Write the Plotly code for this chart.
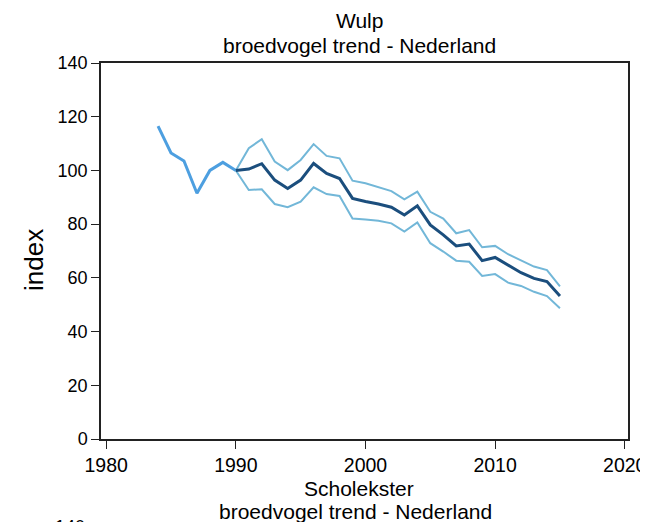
import plotly.graph_objects as go

# early part of the series (before 1990, no confidence band)
early_years = [1984, 1985, 1986, 1987, 1988, 1989, 1990]
early_index = [116.5, 106.5, 103.5, 91.5, 100.0, 103.0, 100.0]

years = list(range(1990, 2016))
trend = [100.0, 100.5, 102.5, 96.4, 93.3, 96.4, 102.6, 98.9, 97.0, 89.6,
         88.4, 87.5, 86.3, 83.4, 86.8, 79.7, 76.0, 71.9, 72.6, 66.4,
         67.6, 64.6, 61.9, 59.8, 58.6, 53.2]
upper = [100.0, 108.3, 111.6, 103.3, 100.1, 103.9, 109.8, 105.4, 104.5, 96.2,
         95.2, 93.7, 92.3, 89.2, 92.1, 84.6, 82.1, 76.6, 77.8, 71.4,
         71.9, 68.8, 66.4, 64.2, 62.9, 56.8]
lower = [100.0, 92.7, 93.0, 87.5, 86.3, 88.4, 93.7, 91.2, 90.5, 82.1,
         81.7, 81.3, 80.3, 77.2, 80.6, 72.9, 69.8, 66.4, 66.0, 60.7,
         61.4, 58.2, 57.0, 54.8, 53.2, 48.7]

font = "Liberation Sans, Arial, sans-serif"

# the page body has an 8px margin, so the figure starts 8px in
W, H, OFF = 648, 514, 8
L, R, T, B = 101 - OFF, 628 - OFF, 63 - OFF, 439 - OFF

fig = go.Figure()
fig.add_trace(go.Scatter(x=years, y=upper, mode="lines",
                         line=dict(color="#72b7d8", width=2)))
fig.add_trace(go.Scatter(x=years, y=lower, mode="lines",
                         line=dict(color="#72b7d8", width=2)))
fig.add_trace(go.Scatter(x=early_years, y=early_index, mode="lines",
                         line=dict(color="#4d9fe0", width=3)))
fig.add_trace(go.Scatter(x=years, y=trend, mode="lines",
                         line=dict(color="#1b4e7d", width=3)))


def paper(xp, yp):
    # page pixel -> paper coordinates
    return (xp - OFF - L) / (R - L), (B - (yp - OFF)) / (B - T)


notes = [
    ("Wulp", 359, 20, 21, 0),
    ("broedvogel trend - Nederland", 359, 45, 21, 0),
    ("Scholekster", 359, 488, 21, 0),
    ("broedvogel trend - Nederland", 355, 511, 21, 0),
    ("140", 70, 527, 18, 0),
    ("index", 34, 260, 26, -90),
]
ann = []
for text, xp, yp, size, angle in notes:
    x, y = paper(xp, yp)
    ann.append(dict(text=text, x=x, y=y, xref="paper", yref="paper",
                    showarrow=False, xanchor="center", yanchor="middle",
                    textangle=angle, font=dict(size=size)))

fig.update_layout(
    width=W, height=H,
    margin=dict(l=L, r=W - R, t=T, b=H - B, autoexpand=False),
    paper_bgcolor="white", plot_bgcolor="white",
    showlegend=False,
    font=dict(family=font, size=20, color="black"),
    xaxis=dict(range=[1979.6, 2020.25], tickvals=[1980, 1990, 2000, 2010, 2020],
               showgrid=False, zeroline=False, showline=True, mirror=True,
               linecolor="#222", linewidth=1.5, ticks="outside", ticklen=8,
               tickcolor="#222", tickfont=dict(size=19.5)),
    yaxis=dict(range=[0, 140], tickvals=[0, 20, 40, 60, 80, 100, 120, 140],
               showgrid=False, zeroline=False, showline=True, mirror=True,
               linecolor="#222", linewidth=1.5, ticks="outside", ticklen=8,
               tickcolor="#222", tickfont=dict(size=18)),
    annotations=ann,
)

fig.write_html("out.html")
